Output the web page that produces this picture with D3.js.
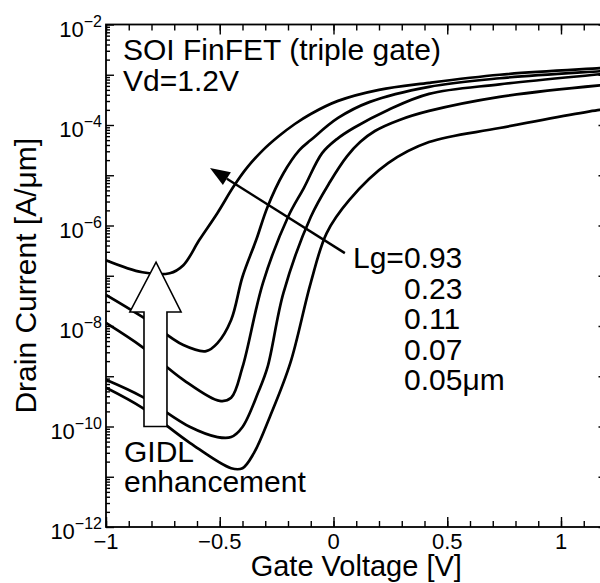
<!DOCTYPE html>
<meta charset="utf-8">
<title>SOI FinFET (triple gate) Id-Vg</title>
<style>
*{
  margin: 0;
  padding: 0;
}
body{
  background: #fff;
  font-family: "Liberation Sans", Arial, Helvetica, sans-serif;
}
svg{
  display: block;
}
.frame{
  fill: none;
  stroke: #000;
  stroke-width: 1.8;
}
.tick line{
  stroke: #000;
  stroke-width: 1.4;
}
.curve{
  fill: none;
  stroke: #000;
  stroke-width: 2.7;
  stroke-linejoin: round;
}
</style>
<body>
<script src="https://d3js.org/d3.v7.min.js"></script>

<div id="chart"></div>

<script>

// gate lengths, top curve first
var gateLengths = ["0.93", "0.23", "0.11", "0.07", "0.05"];

// [Vg (V), log10 Id (A/um)]
var curve093 = [[-1.00,-6.69],[-0.84,-6.93],[-0.72,-6.95],[-0.66,-6.79],[-0.59,-6.29],[-0.51,-5.75],
  [-0.44,-5.23],[-0.38,-4.85],[-0.31,-4.50],[-0.24,-4.22],[-0.17,-3.98],[-0.10,-3.78],[0.02,-3.52],
  [0.20,-3.30],[0.42,-3.16],[0.73,-3.00],[1.17,-2.87],[1.20,-2.86]];
var curve023 = [[-1.00,-7.38],[-0.84,-7.82],[-0.66,-8.38],[-0.56,-8.50],[-0.51,-8.34],[-0.45,-7.88],
  [-0.40,-7.02],[-0.34,-6.29],[-0.29,-5.63],[-0.22,-4.96],[-0.15,-4.50],[-0.10,-4.30],[0.02,-3.86],
  [0.16,-3.54],[0.42,-3.24],[0.73,-3.07],[1.17,-2.93],[1.20,-2.92]];
var curve011 = [[-1.00,-7.94],[-0.84,-8.42],[-0.66,-9.07],[-0.50,-9.49],[-0.45,-9.43],[-0.40,-8.82],
  [-0.31,-7.14],[-0.20,-5.83],[-0.13,-5.25],[-0.05,-4.56],[0.015,-4.28],[0.09,-4.055],[0.24,-3.70],
  [0.42,-3.38],[0.73,-3.19],[1.17,-2.99],[1.20,-2.975]];
var curve007 = [[-1.00,-9.07],[-0.84,-9.41],[-0.63,-10.01],[-0.51,-10.21],[-0.45,-10.21],[-0.40,-10.01],
  [-0.33,-9.31],[-0.29,-8.82],[-0.22,-7.34],[-0.10,-5.83],[-0.015,-5.13],[0.06,-4.62],[0.117,-4.34],
  [0.182,-4.12],[0.29,-3.90],[0.42,-3.72],[0.73,-3.44],[1.17,-3.21],[1.20,-3.20]];
var curve005 = [[-1.00,-9.23],[-0.84,-9.63],[-0.63,-10.33],[-0.45,-10.83],[-0.40,-10.83],[-0.35,-10.53],
  [-0.28,-9.81],[-0.19,-8.74],[-0.10,-7.14],[-0.03,-6.15],[0.07,-5.49],[0.24,-4.76],[0.42,-4.34],
  [0.73,-4.06],[1.17,-3.70],[1.20,-3.69]];

var curves = [curve093, curve023, curve011, curve007, curve005];

// axis ticks
var xMajor = [-1, -0.5, 0, 0.5, 1];
var xMinor = d3.range(-10, 13).map(function(i){ return i / 10; });
var xTickLabels = ["\u22121", "\u22120.5", "0", "0.5", "1"];
var yExponents = [-12, -11, -10, -9, -8, -7, -6, -5, -4, -3, -2];
var yLabelExponents = [-12, -10, -8, -6, -4, -2];

// annotation arrows, in data units
var lgArrow = {from: [0.05, -6.55], to: [-0.543, -4.856]};
var gidlArrow = [[-0.833,-10.0],[-0.732,-10.0],[-0.732,-7.72],[-0.670,-7.72],[-0.780,-6.73],[-0.895,-7.72],[-0.833,-7.72]];

var width = 600,
    height = 583;

var x = d3.scaleLinear()
  .domain([-1, 1.2])
  .range([106, 606.5]);

var y = d3.scaleLog()
  .domain([1e-12, 1e-2])
  .range([527, 24.5]);

var yMajor = yExponents.map(function(e){ return Math.pow(10, e); });
var yMinor = [];
yExponents.slice(0, -1).forEach(function(e){
  for (var k = 2; k < 10; k++) yMinor.push(k * Math.pow(10, e));
});

var svg = d3.select("#chart").append("svg")
  .attr("width", width)
  .attr("height", height);

svg.append("clipPath").attr("id", "plotclip")
  .append("rect")
  .attr("x", x(-1)).attr("y", y(1e-2))
  .attr("width", x(1.2) - x(-1)).attr("height", y(1e-12) - y(1e-2));

/* curves */
var line = d3.line()
  .x(function(d){ return x(d[0]); })
  .y(function(d){ return y(Math.pow(10, d[1])); })
  .curve(d3.curveCatmullRom.alpha(0.5));

svg.append("g")
  .attr("clip-path", "url(#plotclip)")
  .selectAll("path")
  .data(curves)
  .enter().append("path")
  .attr("class", "curve")
  .attr("d", line);

/* axes: ticks point inward */
function noDomain(g){ g.select(".domain").remove(); g.selectAll("text").remove(); }

svg.append("g").attr("transform", "translate(0," + y(1e-12) + ")")
  .call(d3.axisBottom(x).tickValues(xMinor).tickSize(-6).tickFormat("")).call(noDomain);
svg.append("g").attr("transform", "translate(0," + y(1e-12) + ")")
  .call(d3.axisBottom(x).tickValues(xMajor).tickSize(-10).tickFormat("")).call(noDomain);
svg.append("g").attr("transform", "translate(0," + y(1e-2) + ")")
  .call(d3.axisTop(x).tickValues(xMinor).tickSize(-6).tickFormat("")).call(noDomain);
svg.append("g").attr("transform", "translate(0," + y(1e-2) + ")")
  .call(d3.axisTop(x).tickValues(xMajor).tickSize(-10).tickFormat("")).call(noDomain);

svg.append("g").attr("transform", "translate(" + x(-1) + ",0)")
  .call(d3.axisLeft(y).tickValues(yMinor).tickSize(-4).tickFormat("")).call(noDomain);
svg.append("g").attr("transform", "translate(" + x(-1) + ",0)")
  .call(d3.axisLeft(y).tickValues(yMajor).tickSize(-8).tickFormat("")).call(noDomain);
svg.append("g").attr("transform", "translate(" + x(1.2) + ",0)")
  .call(d3.axisRight(y).tickValues(yMinor).tickSize(-4).tickFormat("")).call(noDomain);
svg.append("g").attr("transform", "translate(" + x(1.2) + ",0)")
  .call(d3.axisRight(y).tickValues(yMajor).tickSize(-8).tickFormat("")).call(noDomain);

svg.append("rect")
  .attr("class", "frame")
  .attr("x", x(-1)).attr("y", y(1e-2))
  .attr("width", x(1.2) - x(-1)).attr("height", y(1e-12) - y(1e-2));

/* tick labels */
svg.selectAll(".xlab")
  .data(xMajor)
  .enter().append("text")
  .attr("class", "xlab")
  .attr("x", function(d){ return x(d); })
  .attr("y", 549)
  .attr("text-anchor", "middle")
  .style("font-size", "22px")
  .text(function(d, i){ return xTickLabels[i]; });

var ylab = svg.selectAll(".ylab")
  .data(yLabelExponents)
  .enter().append("text")
  .attr("class", "ylab")
  .attr("x", 102)
  .attr("y", function(d){ return y(Math.pow(10, d)) + 12; })
  .attr("text-anchor", "end")
  .style("font-size", "22px");
ylab.append("tspan").text("10");
ylab.append("tspan")
  .attr("dy", -10)
  .style("font-size", "16px")
  .text(function(d){ return "\u2212" + Math.abs(d); });

/* axis titles */
svg.append("text")
  .attr("x", (x(-1) + x(1.2)) / 2)
  .attr("y", 576)
  .attr("text-anchor", "middle")
  .style("font-size", "29px")
  .text("Gate Voltage [V]");

svg.append("text")
  .attr("transform", "translate(36," + ((y(1e-2) + y(1e-12)) / 2) + ") rotate(-90)")
  .attr("text-anchor", "middle")
  .style("font-size", "30px")
  .text("Drain Current [A/\u03bcm]");

/* annotations */
svg.append("text").attr("x", 123).attr("y", 60).style("font-size", "30px")
  .text("SOI FinFET (triple gate)");
svg.append("text").attr("x", 123).attr("y", 91).style("font-size", "30px")
  .text("Vd=1.2V");

var lgText = svg.append("text").style("font-size", "30px");
gateLengths.forEach(function(lg, i){
  lgText.append("tspan")
    .attr("x", i == 0 ? 353 : 404)
    .attr("y", 268 + i * 30.5)
    .text((i == 0 ? "Lg=" : "") + lg + (i == gateLengths.length - 1 ? "\u03bcm" : ""));
});

// Lg arrow
var ax0 = x(lgArrow.from[0]), ay0 = y(Math.pow(10, lgArrow.from[1])),
    ax1 = x(lgArrow.to[0]), ay1 = y(Math.pow(10, lgArrow.to[1]));
var ang = Math.atan2(ay1 - ay0, ax1 - ax0), headLen = 20, headHalf = 7.5;
var bx = ax1 - headLen * Math.cos(ang), by = ay1 - headLen * Math.sin(ang);
svg.append("line")
  .attr("x1", ax0).attr("y1", ay0).attr("x2", bx).attr("y2", by)
  .attr("stroke", "#000").attr("stroke-width", 2.4);
svg.append("polygon")
  .attr("points", [
    [ax1, ay1],
    [bx + headHalf * Math.sin(ang), by - headHalf * Math.cos(ang)],
    [bx - headHalf * Math.sin(ang), by + headHalf * Math.cos(ang)]
  ].join(" "))
  .attr("fill", "#000");

// GIDL block arrow
svg.append("polygon")
  .attr("points", gidlArrow.map(function(p){ return [x(p[0]), y(Math.pow(10, p[1]))]; }).join(" "))
  .attr("fill", "#fff")
  .attr("stroke", "#000")
  .attr("stroke-width", 1.6);

svg.append("text").attr("x", 124).attr("y", 462).style("font-size", "30px").text("GIDL");
svg.append("text").attr("x", 124).attr("y", 492).style("font-size", "30px").text("enhancement");

</script>
</body>
